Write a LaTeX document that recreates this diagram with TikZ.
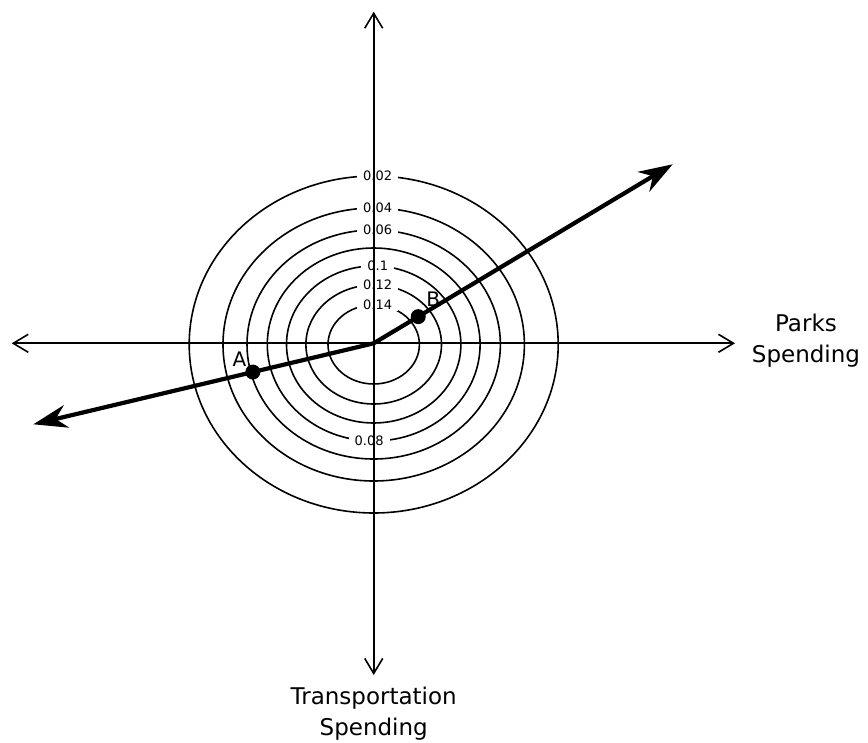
\documentclass[tikz,border=0pt]{standalone}
\usepackage{fontspec}
\setmainfont{DejaVu Sans}
\usetikzlibrary{arrows.meta,positioning,calc}

\begin{document}
\begin{tikzpicture}[
  x=1pt,y=-1pt,
  contour/.style={line width=1.6pt},
  lvl/.style={fill=white,inner xsep=6pt,inner ysep=1pt,font=\fontsize{13}{14}\selectfont},
  axisline/.style={line width=1.6pt,{Straight Barb[length=15pt,width=18pt]}-{Straight Barb[length=15pt,width=18pt]}},
  budget/.style={line width=4.2pt,line join=round,{Stealth[length=34pt,width=23pt,inset=11pt]}-{Stealth[length=34pt,width=23pt,inset=11pt]}},
  ptdot/.style={circle,fill=black,inner sep=0pt,minimum size=15pt},
  ptlab/.style={font=\fontsize{20}{22}\selectfont,inner sep=0pt},
  axlab/.style={font=\fontsize{23}{31}\selectfont,align=center,inner sep=0pt},
]
\useasboundingbox (0,0) rectangle (868,743);
\coordinate (O) at (373.7,343.3);
\coordinate (C) at (373.7,344.5);
\coordinate (xL) at (11.7,343.3);
\coordinate (xR) at (735,343.3);
\coordinate (yT) at (373.7,11.7);
\coordinate (yB) at (373.7,675);
\coordinate (tipL) at (33.3,424.3);
\coordinate (tipR) at (672.7,164.3);

% level curves
\foreach \rx/\ry/\lab [count=\i] in {184.5/168.5/0.02,150.7/136.5/0.04,126.7/114.5/0.06,87.2/78.5/0.1,67.8/59.5/0.12,45.7/39.5/0.14}{
  \draw[contour] (C) ellipse[x radius=\rx pt,y radius=\ry pt];
  \node[lvl] (lvl\i) at ([shift={(4,-\ry)}]C) {\lab};
}
\draw[contour] (C) ellipse[x radius=106.4pt,y radius=96.5pt];
\node[lvl] (lvl7) at ([shift={(-4.5,96.5)}]C) {0.08};

% axes
\draw[axisline] (xL) -- (xR);
\draw[axisline] (yB) -- (yT);
\node[axlab,right=16.7pt of xR,yshift=3pt] (parks) {Parks\\Spending};
\node[axlab,below=11.5pt of yB] (transp) {Transportation\\Spending};

% budget path
\draw[budget] (tipL) -- (O) -- (tipR);
\node[ptdot] (A) at ($(O)!0.355!(tipL)$) {};
\node[ptdot] (B) at ($(O)!0.149!(tipR)$) {};
\node[ptlab] (Alab) at ([shift={(-13.5,-12.5)}]A) {A};
\node[ptlab] (Blab) at ([shift={(15,-17.5)}]B) {B};
\end{tikzpicture}
\end{document}
